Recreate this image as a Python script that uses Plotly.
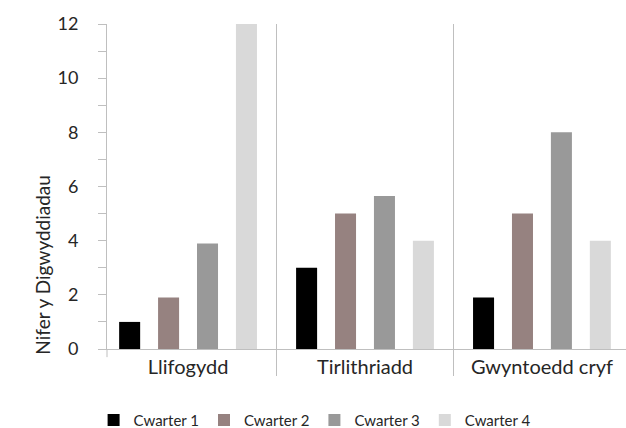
import plotly.graph_objects as go

categories = ["Llifogydd", "Tirlithriadd", "Gwyntoedd cryf"]
series_names = ["Cwarter 1", "Cwarter 2", "Cwarter 3", "Cwarter 4"]
q1 = [1, 3, 1.9]
q2 = [1.9, 5, 5]
q3 = [3.9, 5.65, 8]
q4 = [12, 4, 4]
colors = ["#000000", "#968280", "#999999", "#d9d9d9"]
ytitle = "Nifer y Digwyddiadau"

FONT = "Lato"
fig = go.Figure()
for name, vals, col in zip(series_names, [q1, q2, q3, q4], colors):
    fig.add_trace(go.Bar(name=name, x=categories, y=vals, marker_color=col,
                         marker_line_width=0))

fig.update_layout(
    width=626, height=437,
    margin=dict(l=107, r=0, t=24, b=80),
    paper_bgcolor="white", plot_bgcolor="white",
    barmode="group", bargap=0.12, bargroupgap=0.46,
    font=dict(family=FONT, color="#262626"),
    legend=dict(orientation="h", x=0.40, xanchor="center", y=-0.219, yanchor="middle",
                font=dict(size=15, family=FONT), traceorder="normal"),
    showlegend=True,
)
fig.update_xaxes(
    range=[-0.458, 2.475], showline=True, linecolor="#bfbfbf", linewidth=1,
    tickson="boundaries", ticks="outside", ticklen=26, tickcolor="#bfbfbf",
    showgrid=True, gridcolor="#bfbfbf", gridwidth=1,
    tickfont=dict(size=20, family=FONT, color="#262626"),
)
fig.update_yaxes(
    range=[0, 12], dtick=2, showline=True, linecolor="#bfbfbf", linewidth=1,
    ticks="outside", ticklen=8, tickcolor="#bfbfbf", showgrid=False, zeroline=False,
    minor=dict(dtick=1, ticks="outside", ticklen=8, tickcolor="#bfbfbf", showgrid=False),
    tickfont=dict(size=18, family=FONT, color="#262626"),
    ticklabelstandoff=16,
)
fig.add_annotation(text=ytitle, textangle=-90, xref="paper", yref="paper",
                   x=-0.125, y=0.26, xanchor="center", yanchor="middle", showarrow=False,
                   font=dict(size=19, family=FONT, color="#262626"))
fig.add_shape(type="line", xref="paper", yref="paper", x0=0, x1=0, y0=0, y1=-0.025,
              line=dict(color="#bfbfbf", width=1))
fig.write_html("out.html", config={"displayModeBar": False},
               post_script="document.body.style.margin='0';document.body.style.overflow='hidden';")
